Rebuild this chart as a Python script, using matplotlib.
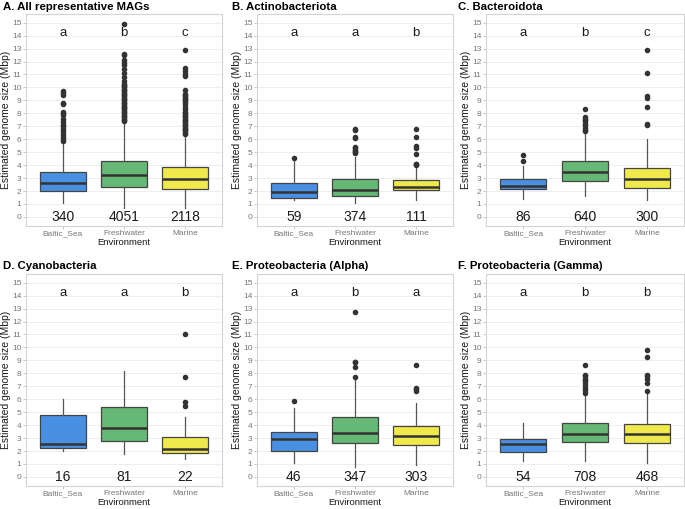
import matplotlib.pyplot as plt

plt.rcParams['font.family'] = ['Liberation Sans', 'DejaVu Sans']

environments = ['Baltic_Sea', 'Freshwater', 'Marine']
box_colors = ['#4A90E2', '#66B876', '#F0E94C']

panel_titles = ['A. All representative MAGs', 'B. Actinobacteriota', 'C. Bacteroidota',
                'D. Cyanobacteria', 'E. Proteobacteria (Alpha)', 'F. Proteobacteria (Gamma)']

# significance letters per panel
letters = [['a', 'b', 'c'], ['a', 'a', 'b'], ['a', 'b', 'c'],
           ['a', 'a', 'b'], ['a', 'b', 'a'], ['a', 'b', 'b']]

# number of MAGs per panel / environment
counts = [[340, 4051, 2118], [59, 374, 111], [86, 640, 300],
          [16, 81, 22], [46, 347, 303], [54, 708, 468]]

# box summaries: (lower whisker, q1, median, q3, upper whisker)
box_A = [(1.1, 2.0, 2.6, 3.45, 5.7), (0.7, 2.3, 3.25, 4.35, 7.4), (0.7, 2.15, 2.9, 3.85, 6.4)]
box_B = [(1.3, 1.5, 1.9, 2.65, 4.4), (1.1, 1.65, 2.05, 2.9, 4.6), (1.3, 2.1, 2.35, 2.85, 3.8)]
box_C = [(1.4, 2.15, 2.4, 2.95, 3.9), (1.6, 2.75, 3.5, 4.3, 6.5), (1.3, 2.2, 2.95, 3.75, 6.0)]
box_D = [(2.0, 2.25, 2.55, 4.75, 6.0), (1.8, 2.8, 3.75, 5.4, 8.2), (1.4, 1.85, 2.15, 3.1, 4.65)]
box_E = [(1.05, 2.0, 2.9, 3.5, 5.35), (0.8, 2.6, 3.4, 4.6, 7.6), (0.9, 2.5, 3.15, 3.9, 5.7)]
box_F = [(1.2, 1.95, 2.55, 2.95, 4.15), (1.2, 2.7, 3.35, 4.2, 6.4), (1.1, 2.6, 3.3, 4.1, 6.5)]

# outliers
out_A = [
    [5.9, 6.0, 6.2, 6.4, 6.6, 6.8, 7.0, 7.1, 7.3, 7.6, 7.9, 8.0, 8.1, 8.7, 8.8, 9.4, 9.6, 9.7],
    [7.4, 7.5, 7.6, 7.7, 7.8, 7.9, 8.0, 8.1, 8.2, 8.3, 8.4, 8.5, 8.6, 8.7, 8.8, 8.9, 9.0,
     9.1, 9.2, 9.3, 9.4, 9.5, 9.6, 9.7, 9.8, 9.9, 10.0, 10.1, 10.2, 10.3, 10.5, 10.8,
     11.1, 11.4, 11.7, 11.9, 12.1, 12.5, 12.6, 14.9],
    [6.4, 6.5, 6.6, 6.7, 6.8, 6.9, 7.0, 7.1, 7.2, 7.3, 7.4, 7.5, 7.6, 7.7, 7.8, 7.9, 8.0,
     8.1, 8.3, 8.5, 8.7, 8.9, 9.0, 9.1, 9.2, 9.3, 9.4, 9.5, 9.8, 10.9, 11.0, 11.3, 11.5, 12.9],
]
out_B = [[4.55],
         [4.9, 5.0, 5.1, 5.2, 5.3, 5.4, 6.1, 6.2, 6.7, 6.8],
         [4.0, 4.05, 4.1, 4.85, 5.3, 5.45, 6.15, 6.8]]
out_C = [[4.3, 4.75],
         [6.6, 6.7, 6.9, 7.1, 7.2, 7.4, 7.5, 7.6, 7.7, 8.35],
         [7.1, 7.2, 8.5, 9.2, 9.3, 11.1, 12.9]]
out_D = [[], [], [5.45, 5.8, 7.7, 11.0]]
out_E = [[5.9], [7.75, 8.5, 8.85, 8.9, 12.7], [6.6, 6.8, 6.85, 8.65]]
out_F = [[],
         [6.5, 6.7, 6.9, 7.1, 7.3, 7.45, 7.6, 7.8, 7.9, 8.65],
         [6.6, 7.25, 7.6, 7.8, 7.9, 9.25, 9.8]]

boxes = [box_A, box_B, box_C, box_D, box_E, box_F]
outliers = [out_A, out_B, out_C, out_D, out_E, out_F]

W, H = 685, 509
fig = plt.figure(figsize=(W / 100, H / 100), dpi=100)

# axes rectangles in pixels: left, top, right, bottom
col_px = [(26, 222), (257, 453), (486, 684)]
row_px = [(14, 226), (274, 486)]
title_x = [3, 232, 458]
title_y = [7, 266]

for k in range(6):
    r, c = divmod(k, 3)
    l, rr = col_px[c]
    t, b = row_px[r]
    ax = fig.add_axes([l / W, 1 - b / H, (rr - l) / W, (b - t) / H])

    stats = []
    for (lo, q1, med, q3, hi), fl in zip(boxes[k], outliers[k]):
        stats.append(dict(whislo=lo, q1=q1, med=med, q3=q3, whishi=hi, fliers=fl))
    bp = ax.bxp(stats, positions=[1, 2, 3], widths=0.75, patch_artist=True, showcaps=False,
                boxprops=dict(edgecolor='#444444', linewidth=0.9),
                medianprops=dict(color='#333333', linewidth=1.8),
                whiskerprops=dict(color='#555555', linewidth=0.9),
                flierprops=dict(marker='o', markerfacecolor='#333333', markeredgecolor='#333333',
                                markersize=3.0))
    for patch, col in zip(bp['boxes'], box_colors):
        patch.set_facecolor(col)
        patch.set_zorder(2)

    for i in range(3):
        ax.text(i + 1, 14.2, letters[k][i], ha='center', va='center', fontsize=9.5, color='#1a1a1a')
        ax.text(i + 1, 0, str(counts[k][i]), ha='center', va='center', fontsize=10, color='#1a1a1a')

    ax.set_xlim(0.4, 3.6)
    ax.set_ylim(-0.7, 15.67)
    ax.set_yticks(range(16))
    ax.set_xticks([1, 2, 3])
    ax.set_xticklabels(environments)
    ax.tick_params(axis='both', labelsize=6, labelcolor='#777777', color='#b0b0b0',
                   length=2, width=0.5, pad=1.2)
    ax.grid(axis='y', color='#ebebeb', linewidth=0.6, zorder=0)
    ax.set_axisbelow(True)
    for s in ax.spines.values():
        s.set_color('#d4d4d4')
        s.set_linewidth(0.8)
    ax.set_ylabel('Estimated genome size (Mbp)', fontsize=7.5, color='#1a1a1a', labelpad=1)
    ax.set_xlabel('Environment', fontsize=6.8, color='#1a1a1a', labelpad=0.5)

    fig.text(title_x[c] / W, 1 - title_y[r] / H, panel_titles[k], fontsize=8.2,
             fontweight='bold', ha='left', va='center')

fig.savefig('out.png', dpi=100)
